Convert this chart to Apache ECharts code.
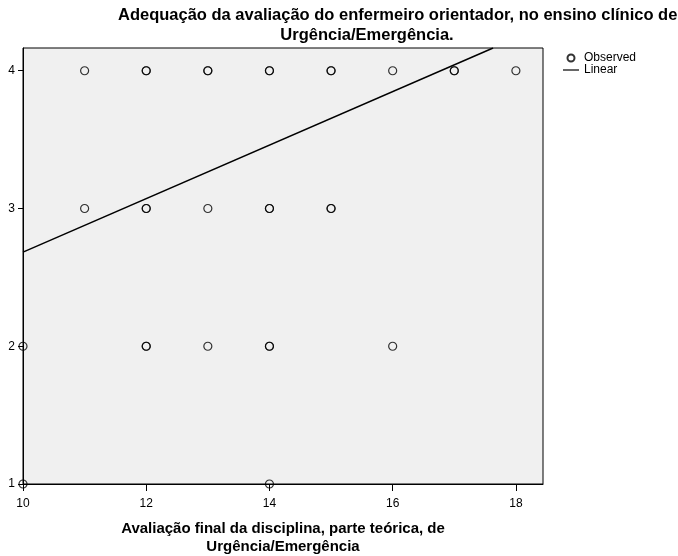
<!DOCTYPE html>
<html>
<head>
<meta charset="utf-8">
<script src="https://cdn.jsdelivr.net/npm/echarts@6/dist/echarts.min.js"></script>
<style>
  html, body { margin: 0; padding: 0; background: #fff; }
  #box { width: 678px; height: 556px; }
</style>
</head>
<body>
<div id="box"></div>
<script>
// pontos observados (x = nota teórica, y = adequação); repetidos = pontos sobrepostos
var obsX = [11, 12, 12, 13, 13, 14, 14, 15, 15, 16, 17, 17, 18,
            11, 12, 12, 13, 14, 14, 15, 15,
            10, 12, 12, 13, 14, 14, 16,
            10, 14];
var obsY = [4, 4, 4, 4, 4, 4, 4, 4, 4, 4, 4, 4, 4,
            3, 3, 3, 3, 3, 3, 3, 3,
            2, 2, 2, 2, 2, 2, 2,
            1, 1];
// recta ajustada (linear), extremos
var fitX = [10, 17.63];
var fitY = [2.683, 4.165];
// marcas dos eixos
var xTicks = [10, 12, 14, 16, 18];
var yTicks = [1, 2, 3, 4];

var font = "'Liberation Sans', Arial, sans-serif";

function pairs(xs, ys) {
  var out = [];
  for (var i = 0; i < xs.length; i++) out.push([xs[i], ys[i]]);
  return out;
}

var myCharts = echarts.init(document.getElementById("box"));
var option = {
  animation: false,
  backgroundColor: "#fff",
  textStyle: { fontFamily: font, color: "#000" },
  title: [
    {
      text: "Adequação da avaliação do enfermeiro orientador, no ensino clínico de",
      left: 118, top: 7, padding: 0,
      textStyle: { fontFamily: font, fontSize: 16.5, fontWeight: "bold", color: "#000" }
    },
    {
      text: "Urgência/Emergência.",
      left: 367, top: 27, padding: 0, textAlign: "center",
      textStyle: { fontFamily: font, fontSize: 16.5, fontWeight: "bold", color: "#000" }
    }
  ],
  legend: {
    orient: "vertical",
    left: 563, top: 52, padding: 0,
    itemWidth: 16, itemHeight: 7, itemGap: 0,
    textStyle: { fontFamily: font, fontSize: 12, color: "#000", lineHeight: 12 },
    data: [
      { name: "Observed" },
      { name: "Linear", icon: "path://M0,0 L16,0 L16,1.2 L0,1.2 Z" }
    ]
  },
  grid: {
    left: 23, top: 48, right: 135, bottom: 72,
    outerBoundsMode: "none",
    show: true,
    backgroundColor: "#f0f0f0",
    borderColor: "#000",
    borderWidth: 1
  },
  xAxis: {
    type: "value",
    min: 10, max: 18.44,
    name: "Avaliação final da disciplina, parte teórica, de\nUrgência/Emergência",
    nameLocation: "middle",
    nameGap: 36,
    nameTextStyle: { fontFamily: font, fontSize: 15, fontWeight: "bold", color: "#000", lineHeight: 18 },
    axisLine: { show: true, lineStyle: { color: "#000", width: 1 } },
    axisTick: { show: true, length: 7, lineStyle: { color: "#000" }, customValues: xTicks },
    axisLabel: { fontFamily: font, fontSize: 12, color: "#000", margin: 14, customValues: xTicks },
    splitLine: { show: false }
  },
  yAxis: {
    type: "value",
    min: 1, max: 4.165,
    axisLine: { show: true, lineStyle: { color: "#000", width: 1 } },
    axisTick: { show: true, length: 5, lineStyle: { color: "#000" }, customValues: yTicks },
    axisLabel: { fontFamily: font, fontSize: 12, color: "#000", margin: 8, customValues: yTicks },
    splitLine: { show: false }
  },
  series: [
    {
      name: "Observed",
      type: "scatter",
      symbol: "circle",
      symbolSize: 8,
      clip: false,
      itemStyle: { color: "transparent", borderColor: "#000", borderWidth: 1.2 },
      data: pairs(obsX, obsY)
    },
    {
      name: "Linear",
      type: "line",
      symbol: "none",
      itemStyle: { color: "#000" },
      lineStyle: { color: "#000", width: 1.5 },
      data: pairs(fitX, fitY)
    }
  ]
};
myCharts.setOption(option);
</script>
</body>
</html>
